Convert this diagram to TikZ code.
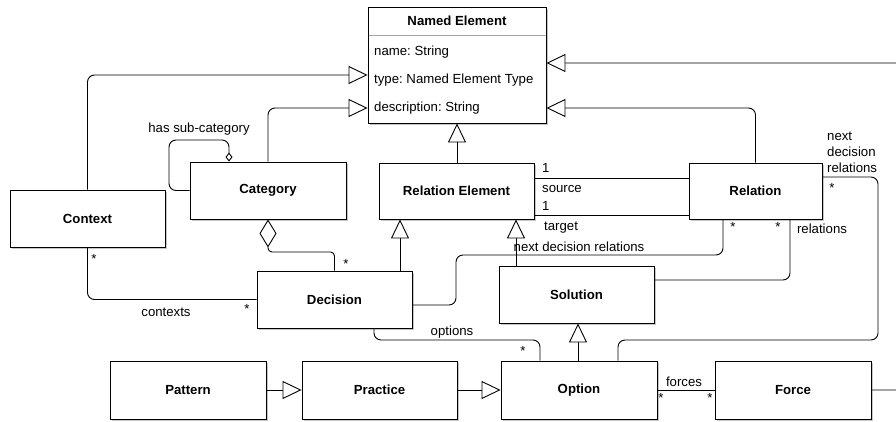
\documentclass[tikz,border=0pt]{standalone}
\usepackage{fontspec}
\setmainfont{Liberation Sans}
\usetikzlibrary{arrows.meta,shadows,calc}
\frenchspacing

\tikzset{
  base/.style={font=\fontsize{13.2}{15.5}\selectfont},
  classbox/.style={base, draw, fill=white, line width=0.9pt, inner sep=0pt,
    font=\fontsize{13.2}{15.5}\selectfont\bfseries,
    drop shadow={shadow xshift=2pt, shadow yshift=-2pt, fill=black, opacity=0.22}},
  conn/.style={line width=0.9pt, rounded corners=7pt},
  gen/.style={conn, -{Triangle[length=19pt, width=18pt, fill=white]}},
  agg/.style={conn, {Diamond[length=28pt, width=17pt, fill=white]}-},
  aggsmall/.style={conn, -{Diamond[length=9pt, width=7pt, fill=white]}},
  lbl/.style={base, inner sep=0pt},
}

\begin{document}
\begin{tikzpicture}[x=1pt, y=-1pt]
  \clip (0,0) rectangle (896,422);
  \fill[white] (0,0) rectangle (896,422);

  % Named Element class with attribute compartment
  \node[classbox, minimum width=178pt, minimum height=116pt] (ne) at (457,65) {};
  \draw[black!35, line width=0.6pt] (368.5,35) -- (545.5,35);
  \node[lbl, font=\fontsize{13.2}{15.5}\selectfont\bfseries] (netitle) at (457,21) {Named Element};
  \node[lbl, anchor=west] (attname) at (374,52) {name: String};
  \node[lbl, anchor=west] (atttype) at (374,80) {type: Named Element Type};
  \node[lbl, anchor=west] (attdesc) at (374,108) {description: String};

  % Classes
  \node[classbox, minimum width=155pt, minimum height=57pt] (ctx) at (87.5,218.5) {Context};
  \node[classbox, minimum width=156pt, minimum height=57pt] (cat) at (268,190.5) {Category};
  \node[classbox, minimum width=155pt, minimum height=56pt] (re)  at (456.5,191) {Relation Element};
  \node[classbox, minimum width=133pt, minimum height=56pt] (rel) at (755.5,191) {Relation};
  \node[classbox, minimum width=155pt, minimum height=57pt] (dec) at (334.5,299.5) {Decision};
  \node[classbox, minimum width=155pt, minimum height=57pt] (sol) at (576.5,294.5) {Solution};
  \node[classbox, minimum width=156pt, minimum height=58pt] (pat) at (188,390) {Pattern};
  \node[classbox, minimum width=155pt, minimum height=58pt] (pra) at (379.5,390) {Practice};
  \node[classbox, minimum width=156pt, minimum height=58pt] (opt) at (579,390) {Option};
  \node[classbox, minimum width=156pt, minimum height=58pt] (frc) at (793,390) {Force};

  % Generalizations towards Named Element
  \draw[gen] (ctx.north) |- (ne.west |- 0,75);
  \draw[gen] (cat.north) |- (ne.west |- 0,108);
  \draw[gen] (ne.south |- re.north) -- (ne.south);
  \draw[gen] (rel.north) |- (ne.east |- 0,108);
  \coordinate (farright) at (920,390);
  \draw[gen] (frc.east) -- (farright) |- (ne.east |- 0,63);

  % Category self aggregation
  \draw[aggsmall] (cat.west) -| (169,140) -| (229,0 |- cat.north);
  \node[lbl] (hassub) at (199,129) {has sub-category};

  % Relation Element -- Relation
  \draw[conn] (re.east |- 0,178) -- (rel.west |- 0,178);
  \draw[conn] (re.east |- 0,215) -- (rel.west |- 0,215);
  \node[lbl, anchor=west] (srcone) at (542,168) {1};
  \node[lbl, anchor=west] (srclbl) at (542,189) {source};
  \node[lbl, anchor=west] (tgtone) at (542,206) {1};
  \node[lbl, anchor=west] (tgtlbl) at (544,228) {target};

  % Decision -- Relation
  \draw[conn] (dec.east |- 0,305) -| (456,255) -| (723,0 |- rel.south);
  \node[lbl] (ndrlbl) at (579,247) {next decision relations};
  \node[lbl] (ndrstar) at (733,227) {*};

  % Relation -- Solution
  \draw[conn] (790,0 |- rel.south) |- (sol.east |- 0,280);
  \node[lbl] (relstar) at (778,227) {*};
  \node[lbl] (rellbl) at (822,229) {relations};

  % Generalizations towards Relation Element and Solution
  \draw[gen] (516,0 |- sol.north) -- (516,0 |- re.south);
  \draw[gen] (400,0 |- dec.north) -- (400,0 |- re.south);
  \draw[gen] (578,0 |- opt.north) -- (578,0 |- sol.south);

  % Category -- Decision aggregation
  \draw[agg, rounded corners=4pt] (cat.south) |- (dec.north |- 0,252) -- (dec.north);
  \node[lbl] (catstar) at (346,264) {*};

  % Context -- Decision
  \draw[conn] (ctx.south) |- (dec.west);
  \node[lbl] (ctxstar) at (94,259) {*};
  \node[lbl] (decstar) at (247,309) {*};
  \node[lbl] (ctxlbl) at (166,312) {contexts};

  % Decision -- Option
  \draw[conn] (374,0 |- dec.south) |- (540,340) -- (540,0 |- opt.north);
  \node[lbl] (optlbl) at (452,332) {options};
  \node[lbl] (optstar) at (523,351) {*};

  % Option -- Relation
  \draw[conn] (618,0 |- opt.north) |- (878,340) |- (rel.east |- 0,177);
  \node[lbl, anchor=west, align=left, font=\fontsize{13.2}{16}\selectfont] (ndrlbl2) at (827,152) {next\\decision\\relations};
  \node[lbl] (ndrstar2) at (832,188) {*};

  % Pattern -> Practice -> Option
  \draw[gen] (pat.east) -- (pra.west);
  \draw[gen] (pra.east) -- (opt.west);

  % Option -- Force
  \draw[conn] (opt.east) -- (frc.west);
  \node[lbl] (frclbl) at (684,382) {forces};
  \node[lbl] (frcstar1) at (661,398) {*};
  \node[lbl] (frcstar2) at (710,398) {*};
\end{tikzpicture}
\end{document}
